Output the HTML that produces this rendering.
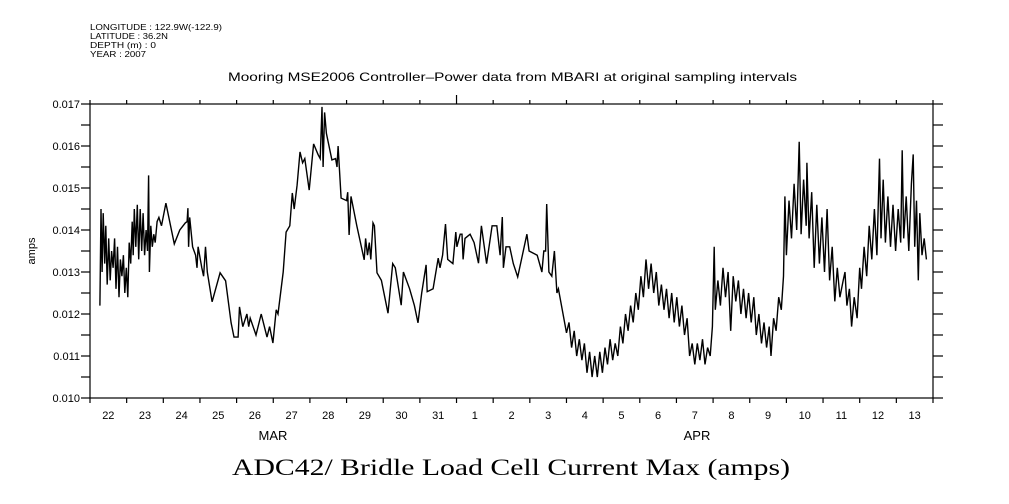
<!DOCTYPE html>
<html><head><meta charset="utf-8"><style>
body{margin:0;background:#fff;width:1009px;height:504px;overflow:hidden}
svg{display:block}
text{font-family:"Liberation Sans",sans-serif;fill:#000}
</style></head><body>
<svg id="chart" width="1009" height="504" viewBox="0 0 1009 504">
<g font-size="8.5">
<text x="90" y="30" textLength="132" lengthAdjust="spacingAndGlyphs">LONGITUDE : 122.9W(-122.9)</text>
<text x="90" y="39" textLength="78" lengthAdjust="spacingAndGlyphs">LATITUDE : 36.2N</text>
<text x="90" y="48" textLength="66" lengthAdjust="spacingAndGlyphs">DEPTH (m) : 0</text>
<text x="90" y="57" textLength="56" lengthAdjust="spacingAndGlyphs">YEAR : 2007</text>
</g>
<text x="228" y="81" textLength="569" lengthAdjust="spacingAndGlyphs" font-size="12">Mooring MSE2006 Controller–Power data from MBARI at original sampling intervals</text>
<text transform="translate(35,251) rotate(-90)" text-anchor="middle" font-size="11">amps</text>
<text x="232" y="475" textLength="558" lengthAdjust="spacingAndGlyphs" font-size="23" style="font-family:'Liberation Serif',serif">ADC42/ Bridle Load Cell Current Max (amps)</text>
<text x="273" y="440" text-anchor="middle" font-size="13">MAR</text>
<text x="697" y="440" text-anchor="middle" font-size="13">APR</text>
<rect x="90" y="104" width="843" height="294" fill="none" stroke="#000" stroke-width="1.2"/>
<g id="axes"></g>
<path id="series" fill="none" stroke="#000" stroke-width="1.4"/>
</svg>
<script>
const dayLabels=["22","23","24","25","26","27","28","29","30","31","1","2","3","4","5","6","7","8","9","10","11","12","13"];
const yTicks=[0.010,0.011,0.012,0.013,0.014,0.015,0.016,0.017];
const days=[0.27,0.30,0.33,0.36,0.40,0.43,0.47,0.51,0.55,0.59,0.63,0.67,0.71,0.75,0.79,0.83,0.87,0.91,0.95,0.99,1.03,1.07,1.11,1.15,1.18,1.21,1.25,1.29,1.33,1.37,1.41,1.45,1.49,1.53,1.57,1.60,1.62,1.66,1.70,1.74,1.78,1.83,
1.88,1.95,2.07,2.3,2.45,2.6,2.65,2.67,2.69,2.72,2.8,2.88,2.92,2.95,3.05,3.1,3.15,3.2,3.33,3.55,3.7,3.85,3.93,4.04,4.08,4.17,4.28,4.33,4.37,4.53,4.67,4.83,4.9,4.99,5.08,5.13,5.27,5.35,5.45,5.52,5.57,5.65,5.73,5.8,5.86,5.98,6.1,6.22,6.28,6.33,6.36,6.4,6.45,6.6,6.7,6.74,6.77,6.85,7.0,7.03,7.07,7.12,7.28,7.48,7.52,7.57,7.62,7.66,7.72,7.76,7.83,7.95,8.13,8.26,8.33,8.49,8.55,8.72,8.85,8.95,9.05,9.17,9.2,9.36,9.5,9.55,9.62,9.7,9.76,9.9,9.98,10.01,10.1,10.15,10.18,10.23,10.37,10.48,10.6,10.68,10.82,10.97,11.1,11.19,11.25,11.28,11.35,11.45,11.55,11.67,11.92,11.98,12.2,12.33,12.38,12.43,12.46,12.52,12.6,12.67,12.74,12.78,13.0,
13.07,13.14,13.21,13.28,13.35,13.42,13.49,13.56,13.63,13.70,13.77,13.84,13.91,13.98,14.05,14.12,14.19,14.26,14.33,14.40,14.47,14.54,14.61,14.68,14.75,14.82,14.89,14.96,15.03,15.10,15.17,15.24,15.31,15.38,15.45,15.52,15.59,15.66,15.73,15.80,15.87,15.94,16.01,16.08,16.15,16.22,16.29,16.36,16.43,16.50,16.57,16.64,16.71,16.78,16.85,16.92,16.98,17.03,17.06,17.13,17.20,17.27,17.34,17.41,17.48,17.55,17.62,17.69,17.76,17.83,17.90,17.97,18.04,18.11,18.18,18.25,18.32,18.39,18.46,18.53,18.58,18.65,18.72,18.79,18.86,18.92,18.96,19.00,19.07,19.14,19.21,19.28,19.35,19.40,19.47,19.54,19.56,19.62,19.69,19.76,19.83,19.90,19.97,20.04,20.11,20.18,20.25,20.32,20.39,20.46,20.55,20.60,20.65,20.72,20.78,20.85,20.93,21.00,21.05,21.12,21.19,21.26,21.33,21.40,21.47,21.54,21.58,21.64,21.70,21.77,21.84,21.91,21.98,22.05,22.12,22.16,22.20,22.27,22.34,22.41,22.46,22.50,22.55,22.60,22.64,22.70,22.76,22.82];
const values=[0.0122,0.0145,0.0130,0.0144,0.0132,0.0141,0.0127,0.0138,0.0128,0.0135,0.0131,0.0138,0.0126,0.0136,0.0124,0.0133,0.0129,0.0134,0.0125,0.0131,0.0124,0.0137,0.0132,0.0142,0.0134,0.0145,0.0136,0.0146,0.0133,0.0145,0.0135,0.0144,0.0134,0.0140,0.0135,0.0153,0.0130,0.0141,0.0136,0.0139,0.0137,0.0142,
0.0143,0.0141,0.01464,0.01367,0.0140,0.01417,0.0142,0.01452,0.0136,0.0143,0.0136,0.0134,0.0131,0.0136,0.0131,0.0129,0.0136,0.0130,0.01229,0.01298,0.01279,0.01179,0.01145,0.01145,0.01217,0.0117,0.0120,0.0117,0.0119,0.0115,0.0120,0.01145,0.0117,0.01131,0.0121,0.0120,0.0130,0.01395,0.0141,0.01488,0.0145,0.01507,0.01586,0.0156,0.0157,0.01495,0.01605,0.0158,0.0157,0.01693,0.0155,0.0168,0.0163,0.01567,0.0157,0.0155,0.0160,0.01476,0.0147,0.0149,0.01388,0.0148,0.0141,0.01329,0.0138,0.0134,0.0137,0.0133,0.01417,0.0141,0.01298,0.0128,0.01202,0.0132,0.0131,0.01221,0.0130,0.0126,0.0122,0.01179,0.0125,0.01317,0.01253,0.0126,0.01333,0.0131,0.0134,0.01414,0.0133,0.0132,0.01395,0.0136,0.0139,0.0139,0.0133,0.0138,0.0139,0.0137,0.01321,0.0141,0.0132,0.0141,0.0141,0.0134,0.01431,0.0131,0.0136,0.0136,0.0132,0.01288,0.0139,0.0135,0.0134,0.0130,0.0135,0.0135,0.01462,0.0130,0.0129,0.0135,0.0125,0.0126,0.01155,
0.0118,0.0112,0.0116,0.0110,0.0114,0.0109,0.0113,0.0106,0.0111,0.0105,0.0110,0.0105,0.0111,0.0106,0.0112,0.0108,0.0114,0.0109,0.0113,0.0110,0.0117,0.0113,0.0120,0.0116,0.0122,0.0118,0.0125,0.0121,0.0129,0.0124,0.0133,0.0126,0.0132,0.0125,0.0130,0.0122,0.0127,0.0121,0.0126,0.0119,0.0125,0.0118,0.0124,0.0117,0.0122,0.0115,0.0119,0.0110,0.0113,0.0108,0.0113,0.0109,0.0114,0.0108,0.0112,0.0110,0.0117,0.0136,0.0121,0.0128,0.0122,0.0131,0.0124,0.0130,0.0116,0.0129,0.0123,0.0128,0.0120,0.0126,0.0119,0.0125,0.0118,0.0124,0.0115,0.0120,0.0113,0.0118,0.0112,0.0117,0.0110,0.0119,0.0116,0.0124,0.0121,0.0129,0.0148,0.0134,0.0147,0.0138,0.0151,0.0140,0.0161,0.0139,0.0152,0.0141,0.0156,0.0138,0.0149,0.0131,0.0146,0.0132,0.0143,0.0130,0.0145,0.0128,0.0136,0.0123,0.0131,0.0124,0.0128,0.0130,0.0122,0.0126,0.0117,0.0124,0.0119,0.0131,0.0126,0.0136,0.0129,0.0141,0.0133,0.0145,0.0134,0.0157,0.0138,0.0152,0.0137,0.0148,0.0136,0.0146,0.0135,0.0145,0.0137,0.0159,0.0138,0.0148,0.0135,0.0151,0.0158,0.0136,0.0147,0.0128,0.0144,0.0134,0.0138,0.0133];
const X0=90,X1=933,Y0=398,Y1=104,D0=0,D1=23,V0=0.010,V1=0.017;
const xs=d=>X0+(d-D0)/(D1-D0)*(X1-X0);
const ys=v=>Y0-(v-V0)/(V1-V0)*(Y0-Y1);
const NS="http://www.w3.org/2000/svg";
const g=document.getElementById('axes');
function ln(x1,y1,x2,y2,name){const l=document.createElementNS(NS,'line');l.setAttribute('x1',x1);l.setAttribute('y1',y1);l.setAttribute('x2',x2);l.setAttribute('y2',y2);l.setAttribute('stroke','#000');l.setAttribute('stroke-width','1.2');


g.appendChild(l);}
function tx(x,y,s,anchor,size,name){const t=document.createElementNS(NS,'text');t.setAttribute('x',x);t.setAttribute('y',y);t.setAttribute('text-anchor',anchor);t.setAttribute('font-size',size);t.textContent=s;


g.appendChild(t);}
for(let i=0;i<=D1;i++){const x=xs(i);ln(x,Y0,x,Y0+5,'x-tick');ln(x,Y1,x,Y1-(i===10?9:4),'x-tick-top');}
dayLabels.forEach((s,i)=>tx(xs(i+0.5),419,s,'middle',11,'x-tick-label'));
for(let k=0;k<=14;k++){const v=V0+k*0.0005;const y=ys(v);ln(X0-9,y,X0,y,'y-tick');ln(X1,y,X1+10,y,'y-tick-right');}
yTicks.forEach(v=>tx(80,ys(v)+4,v.toFixed(3),'end',11,'y-tick-label'));
let d='';days.forEach((t,i)=>{d+=(i?'L':'M')+xs(t).toFixed(1)+' '+ys(values[i]).toFixed(1);});
document.getElementById('series').setAttribute('d',d);
</script>
</body></html>
